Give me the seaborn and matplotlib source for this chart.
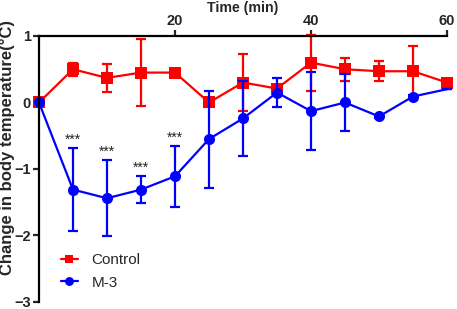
import numpy as np
import pandas as pd
import matplotlib
matplotlib.use("Agg")
import matplotlib.pyplot as plt
import seaborn as sns

# data
time_min = [0, 5, 10, 15, 20, 25, 30, 35, 40, 45, 50, 55, 60]
control_mean = [0.0, 0.50, 0.37, 0.45, 0.45, 0.0, 0.30, 0.21, 0.60, 0.50, 0.47, 0.47, 0.30]
control_err = [0.0, 0.10, 0.21, 0.50, 0.04, 0.04, 0.43, 0.05, 0.42, 0.17, 0.15, 0.38, 0.03]
m3_mean = [0.0, -1.31, -1.44, -1.31, -1.11, -0.55, -0.24, 0.15, -0.13, 0.0, -0.21, 0.09, 0.20]
m3_err = [0.0, 0.62, 0.57, 0.20, 0.46, 0.73, 0.56, 0.22, 0.59, 0.43, 0.02, 0.02, 0.0]
sig_times = [5, 10, 15, 20]
sig_label = "***"

sns.set_style("ticks")
plt.rcParams['font.family'] = ['Liberation Sans', 'DejaVu Sans']

df = pd.DataFrame({
    "time": time_min * 2,
    "value": control_mean + m3_mean,
    "group": ["Control"] * len(time_min) + ["M-3"] * len(time_min),
})

fig = plt.figure(figsize=(4.57, 3.09), dpi=100)
ax = fig.add_axes([0.0853, 0.0227, 0.8928, 0.8608])

palette = {"Control": "#ff0000", "M-3": "#0000ff"}
markers = {"Control": "s", "M-3": "o"}

sns.lineplot(data=df, x="time", y="value", hue="group", style="group",
             palette=palette, markers=markers, dashes=False, lw=1.6,
             markersize=8, markeredgewidth=0, ax=ax, clip_on=False)

# blue series has no marker drawn at 60 min in the original
ax.get_lines()[1].set_markevery(list(range(len(time_min) - 1)))

ax.errorbar(time_min, control_mean, yerr=control_err, fmt="none",
            ecolor="#ff0000", elinewidth=1.6, capsize=3.5, capthick=1.6, clip_on=False, zorder=1.5)
ax.errorbar(time_min, m3_mean, yerr=m3_err, fmt="none",
            ecolor="#0000ff", elinewidth=1.6, capsize=3.5, capthick=1.6, clip_on=False, zorder=2.5)

for t in sig_times:
    i = time_min.index(t)
    ax.text(t, m3_mean[i] + m3_err[i] + 0.02, sig_label, ha="center", va="bottom",
            fontsize=10, color="#222222")

ax.set_xlim(0, 60)
ax.set_ylim(-3, 1)
ax.set_xticks([20, 40, 60])
ax.set_yticks([1, 0, -1, -2, -3])
ax.xaxis.tick_top()
ax.xaxis.set_label_position("top")
ax.set_xlabel("Time (min)", fontsize=10.2, fontweight="bold", labelpad=1)
ax.set_ylabel("Change in body temperature(°C)", fontsize=12, fontweight="bold")
ax.yaxis.set_label_coords(-0.06, 0.58)

for s in ["right", "bottom"]:
    ax.spines[s].set_visible(False)
for s in ["left", "top"]:
    ax.spines[s].set_linewidth(1.6)
    ax.spines[s].set_color("black")
ax.tick_params(axis="both", width=1.6, length=4, labelsize=10.5, pad=2)
for lab in ax.get_xticklabels() + ax.get_yticklabels():
    lab.set_fontweight("bold")

handles, labels = ax.get_legend_handles_labels()
leg = ax.legend(handles, labels, loc="lower left", bbox_to_anchor=(0.02, -0.005),
                frameon=False, fontsize=11, handlelength=1.1, markerscale=0.8,
                labelspacing=0.55, handletextpad=0.9)

fig.savefig("out.png", dpi=100)
